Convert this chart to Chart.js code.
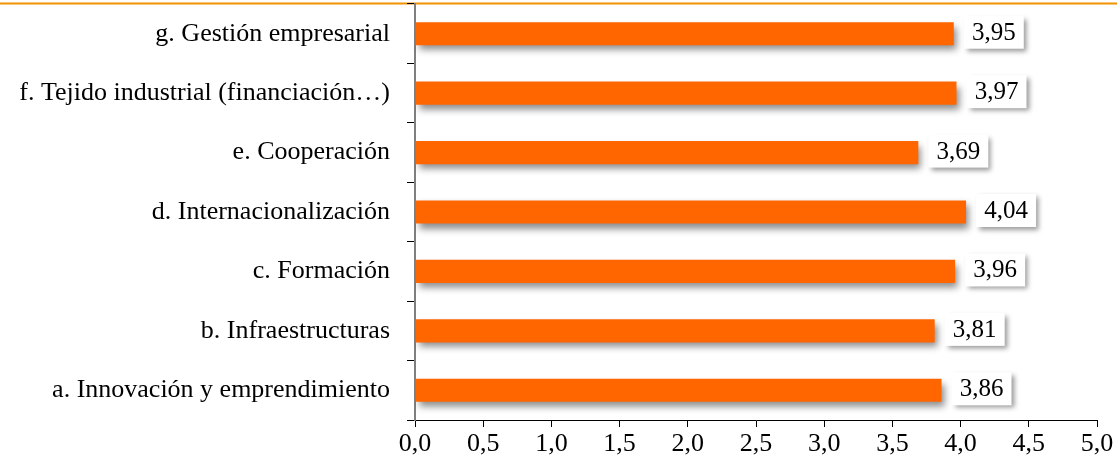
<!DOCTYPE html>
<html>
<head>
<meta charset="utf-8">
<script src="https://cdn.jsdelivr.net/npm/chart.js@4.4.1/dist/chart.umd.min.js"></script>
<style>
  html, body { margin: 0; padding: 0; background: #fff; }
  #wrap { width: 1117px; height: 463px; }
</style>
</head>
<body>
<div id="wrap"><canvas id="chart" width="1117" height="463"></canvas></div>
<script>
const categories = [
    'g. Gestión empresarial',
    'f. Tejido industrial (financiación…)',
    'e. Cooperación',
    'd. Internacionalización',
    'c. Formación',
    'b. Infraestructuras',
    'a. Innovación y emprendimiento'
]
const scores = [3.95, 3.97, 3.69, 4.04, 3.96, 3.81, 3.86]
const xTicks = [0, 0.5, 1, 1.5, 2, 2.5, 3, 3.5, 4, 4.5, 5]

const fmt = v => v.toFixed(2).replace('.', ',')

// thin orange rule at the very top
const topRule = {
    id: 'topRule',
    beforeDraw(chart) {
        const ctx = chart.ctx
        ctx.save()
        ctx.strokeStyle = '#F39200'
        ctx.lineWidth = 2
        ctx.beginPath()
        ctx.moveTo(0, 3.5)
        ctx.lineTo(chart.width, 3.5)
        ctx.stroke()
        ctx.restore()
    }
}

// drop shadow under the bars
const barShadow = {
    id: 'barShadow',
    beforeDatasetDraw(chart) {
        const ctx = chart.ctx
        ctx.save()
        ctx.shadowColor = 'rgba(0,0,0,0.45)'
        ctx.shadowBlur = 7
        ctx.shadowOffsetX = 3
        ctx.shadowOffsetY = 5
    },
    afterDatasetDraw(chart) {
        chart.ctx.restore()
    }
}

// white boxed value labels
const valueBoxes = {
    id: 'valueBoxes',
    afterDatasetsDraw(chart) {
        const ctx = chart.ctx
        const meta = chart.getDatasetMeta(0)
        meta.data.forEach((bar, i) => {
            const x = bar.x + 10
            const y = bar.y - 18
            const w = 60, h = 33
            ctx.save()
            ctx.shadowColor = 'rgba(0,0,0,0.4)'
            ctx.shadowBlur = 5
            ctx.shadowOffsetX = 3
            ctx.shadowOffsetY = 3
            ctx.fillStyle = '#fff'
            ctx.fillRect(x, y, w, h)
            ctx.restore()
            ctx.save()
            ctx.fillStyle = '#000'
            ctx.font = '25px "Liberation Serif"'
            ctx.textAlign = 'center'
            ctx.textBaseline = 'middle'
            ctx.fillText(fmt(scores[i]), x + w / 2, y + h / 2 + 1)
            ctx.restore()
        })
    }
}

new Chart(document.getElementById('chart'), {
    type: 'bar',
    data: {
        labels: categories,
        datasets: [{
            data: scores,
            backgroundColor: '#FF6600',
            borderWidth: 0,
            barPercentage: 0.39,
            categoryPercentage: 1
        }]
    },
    options: {
        indexAxis: 'y',
        responsive: false,
        animation: false,
        layout: { padding: { top: 4, right: 20, bottom: 0, left: 0 } },
        plugins: {
            legend: { display: false },
            tooltip: { enabled: false }
        },
        scales: {
            x: {
                min: 0,
                max: 5,
                afterBuildTicks: scale => { scale.ticks = xTicks.map(v => ({ value: v })) },
                afterFit: scale => {
                    scale.height = 43
                    scale.paddingLeft = 0
                    scale.paddingRight = 0
                },
                grid: { drawOnChartArea: false, tickLength: 7, color: '#000' },
                border: { color: '#000', width: 1 },
                ticks: {
                    color: '#000',
                    padding: 2,
                    font: { family: 'Liberation Serif', size: 26 },
                    callback: v => v.toFixed(1).replace('.', ',')
                }
            },
            y: {
                afterFit: scale => {
                    scale.width = 415
                    scale.paddingTop = 0
                    scale.paddingBottom = 0
                },
                grid: { drawOnChartArea: false, tickLength: 8, color: '#000' },
                border: { color: '#7f7f7f', width: 2 },
                ticks: {
                    color: '#000',
                    padding: 17,
                    font: { family: 'Liberation Serif', size: 26 }
                }
            }
        }
    },
    plugins: [topRule, barShadow, valueBoxes]
})
</script>
</body>
</html>
